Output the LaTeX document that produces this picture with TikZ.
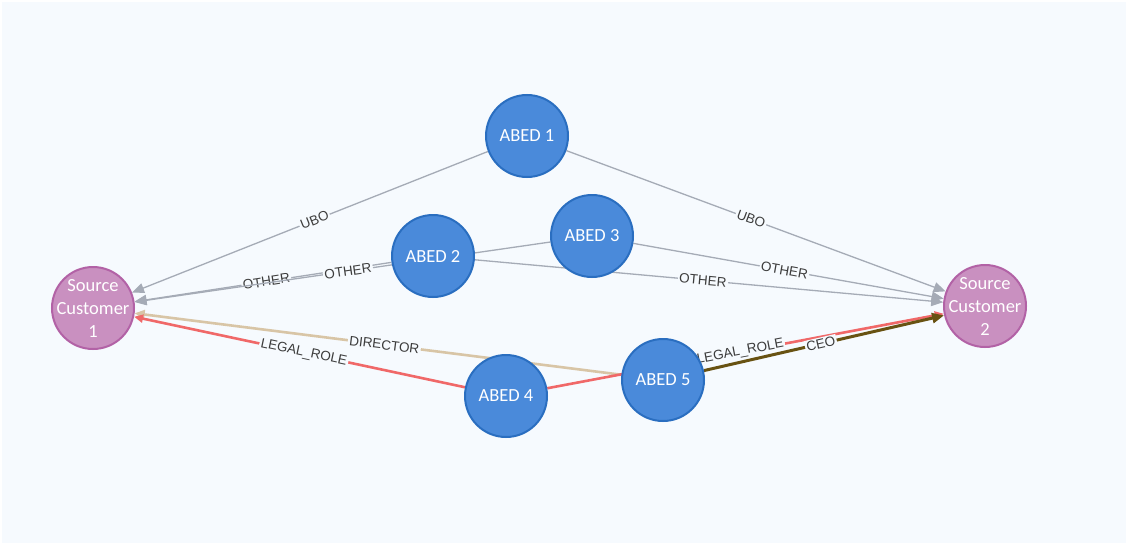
\documentclass[tikz,border=0pt]{standalone}
\usepackage{fontspec}
\usetikzlibrary{arrows.meta}
\newfontfamily\nodefont{Carlito}
\newfontfamily\edgefont{Liberation Sans}

\definecolor{canvas}{RGB}{246,250,254}
\definecolor{abedfill}{RGB}{74,138,218}
\definecolor{abedline}{RGB}{42,110,192}
\definecolor{custfill}{RGB}{201,144,192}
\definecolor{custline}{RGB}{178,98,166}
\definecolor{relgray}{RGB}{165,171,182}
\definecolor{relred}{RGB}{240,104,104}
\definecolor{reltan}{RGB}{216,197,166}
\definecolor{relbrown}{RGB}{104,82,18}
\definecolor{labeltext}{RGB}{60,60,60}

\pgfdeclarelayer{backdrop}
\pgfdeclarelayer{links}
\pgfsetlayers{backdrop,links,main}

\tikzset{
  entity/.style={circle, minimum size=82pt, inner sep=0pt, line width=2pt},
  abed/.style={entity, fill=abedfill, draw=abedline},
  customer/.style={entity, fill=custfill, draw=custline},
  caption/.style={text=white, align=center, inner sep=0pt,
    font=\nodefont\fontsize{18.5}{23}\selectfont},
  rel/.style={line width=1.3pt},
  graylink/.style={rel, draw=relgray, -{Triangle[length=12pt,width=10pt]}},
  redlink/.style={line width=2.6pt, draw=relred, -{Triangle[length=9pt,width=8pt]}},
  tanlink/.style={line width=2.6pt, draw=reltan, -{Triangle[length=10pt,width=9pt]}},
  brownlink/.style={line width=3pt, draw=relbrown, -{Triangle[length=12pt,width=10pt]}},
  tag/.style={sloped, pos=0.487, fill=canvas, inner sep=1.5pt, text=labeltext,
    font=\edgefont\fontsize{13.5}{13.5}\selectfont}
}

\begin{document}
\begin{tikzpicture}[x=1pt,y=-1pt]
\useasboundingbox (0,0) rectangle (1126,543);

\begin{pgfonlayer}{backdrop}
  \fill[white] (0,0) rectangle (1126,543);
  \fill[canvas] (2,2) rectangle (1126,543);
\end{pgfonlayer}

% entities: fixed-size discs with their captions set on top
\node[abed] (a1) at (527,136) {};
\node[abed] (a2) at (433,256) {};
\node[abed] (a3) at (592,236) {};
\node[abed] (a4) at (506,396) {};
\node[abed] (a5) at (663,380) {};
\node[customer] (s1) at (93,308) {};
\node[customer] (s2) at (985,306) {};

\node[caption] (a1t) at (a1) {ABED 1};
\node[caption] (a2t) at (a2) {ABED 2};
\node[caption] (a3t) at (a3) {ABED 3};
\node[caption] (a4t) at (a4) {ABED 4};
\node[caption] (a5t) at (a5) {ABED 5};
\node[caption] (s1t) at (s1) {Source\\Customer\\1};
\node[caption] (s2t) at (s2) {Source\\Customer\\2};

% relationships, kept underneath the entities
\begin{pgfonlayer}{links}
  \draw[graylink] (a1) -- node[tag] (l1) {UBO} (s1);
  \draw[graylink] (a1) -- node[tag] (l2) {UBO} (s2);
  \draw[graylink] (a2) -- node[tag] (l3) {OTHER} (s1);
  \draw[graylink] (a3) -- node[tag] (l4) {OTHER} (s1);
  \draw[graylink] (a3) -- node[tag] (l5) {OTHER} (s2);
  \draw[graylink] (a2) -- node[tag] (l6) {OTHER} (s2);
  \draw[tanlink] (a5) -- node[tag] (l7) {DIRECTOR} (s1);
  \draw[redlink] (a4) -- node[tag] (l8) {LEGAL\_ROLE} (s1);
  \draw[redlink] (a4) -- node[tag] (l9) {LEGAL\_ROLE} (s2);
  \draw[brownlink] (a5) -- node[tag] (l10) {CEO} (s2);
\end{pgfonlayer}
\end{tikzpicture}
\end{document}
